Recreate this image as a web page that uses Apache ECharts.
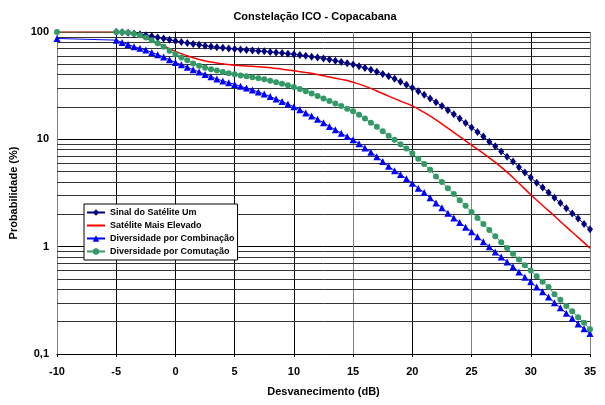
<!DOCTYPE html>
<html>
<head>
<meta charset="utf-8">
<script src="https://cdn.jsdelivr.net/npm/echarts@6/dist/echarts.min.js"></script>
<style>
  html, body { margin: 0; padding: 0; background: #fff; }
  #chart { width: 605px; height: 405px; }
</style>
</head>
<body>
<div id="chart"></div>
<script>
// fade depth in dB where the marker series are sampled
const fadeDb = [
  -5, -4.5, -4, -3.5, -3, -2.5, -2, -1.5, -1, -0.5,
  0, 0.5, 1, 1.5, 2, 2.5, 3, 3.5, 4, 4.5,
  5, 5.5, 6, 6.5, 7, 7.5, 8, 8.5, 9, 9.5,
  10, 10.5, 11, 11.5, 12, 12.5, 13, 13.5, 14, 14.5,
  15, 15.5, 16, 16.5, 17, 17.5, 18, 18.5, 19, 19.5,
  20, 20.5, 21, 21.5, 22, 22.5, 23, 23.5, 24, 24.5,
  25, 25.5, 26, 26.5, 27, 27.5, 28, 28.5, 29, 29.5,
  30, 30.5, 31, 31.5, 32, 32.5, 33, 33.5, 34, 34.5, 35
];

// Sinal do Satélite Um (%)
const sinalUm = [
  100, 99.5, 98.5, 97, 95.5, 93.5, 91.5, 89, 87, 84.5,
  82.5, 80.5, 79, 77.5, 76, 74.5, 73.3, 72.2, 71.2, 70.3,
  69.5, 68.8, 68, 67.2, 66.6, 66, 65.2, 64.4, 63.6, 62.8,
  62, 61, 60, 58.9, 57.8, 56.6, 55.3, 54, 52.6, 51.2,
  49.8, 48, 46.3, 44.5, 42.6, 40.7, 38.7, 36.6, 34.4, 32.2,
  30.2, 28, 26, 24, 22.2, 20.4, 18.7, 17.1, 15.6, 14.2,
  12.9, 11.7, 10.6, 9.5, 8.6, 7.7, 6.9, 6.2, 5.5, 4.9,
  4.4, 3.95, 3.55, 3.2, 2.85, 2.55, 2.28, 2.04, 1.83, 1.63, 1.45
];

// Diversidade por Combinação (%)
const combinacao = [
  84, 80, 76.5, 73, 70.5, 68, 64.5, 61.5, 58.5, 55,
  52, 49.5, 47, 44.5, 42.5, 40.2, 38.3, 36.5, 35, 33.7,
  32.5, 31.2, 30, 28.8, 27.6, 26.4, 25, 23.8, 22.5, 21.3,
  20.1, 18.9, 17.6, 16.5, 15.4, 14.3, 13.2, 12.3, 11.4, 10.6,
  9.9, 9.1, 8.3, 7.6, 6.9, 6.2, 5.6, 5.1, 4.7, 4.3,
  3.9, 3.5, 3.2, 2.85, 2.55, 2.3, 2.05, 1.85, 1.68, 1.52,
  1.38, 1.24, 1.11, 1.0, 0.89, 0.8, 0.72, 0.65, 0.58, 0.52,
  0.47, 0.42, 0.38, 0.34, 0.3, 0.27, 0.24, 0.215, 0.19, 0.172, 0.155
];
const combinacaoStart = [-10, 87];

// Diversidade por Comutação (%)
const comutacao = [
  100, 99.5, 98.5, 96.5, 93.5, 89, 84, 78.5, 73, 67,
  62, 58, 54.5, 51, 48.5, 46.5, 45, 43.8, 42.5, 41.3,
  40.3, 39.4, 38.6, 37.8, 37, 36.2, 35.2, 34.1, 33, 31.9,
  30.8, 29.4, 28, 26.7, 25.3, 24, 22.8, 21.6, 20.4, 19.3,
  18.3, 16.9, 15.6, 14.3, 13.1, 11.9, 10.8, 9.9, 9, 8.2,
  7.4, 6.6, 5.9, 5.2, 4.5, 4.0, 3.5, 3.1, 2.7, 2.4,
  2.1, 1.85, 1.63, 1.43, 1.25, 1.1, 0.97, 0.86, 0.76, 0.67,
  0.6, 0.53, 0.47, 0.42, 0.36, 0.32, 0.28, 0.25, 0.22, 0.195, 0.17
];
const comutacaoStart = [-10, 100];

// Satélite Mais Elevado (%), smooth line at 1 dB
const elevadoDb = [
  -10, -9, -8, -7, -6, -5, -4, -3, -2, -1,
  0, 1, 2, 3, 4, 5, 6, 7, 8, 9,
  10, 11, 12, 13, 14, 15, 16, 17, 18, 19,
  20, 21, 22, 23, 24, 25, 26, 27, 28, 29,
  30, 31, 32, 33, 34, 35
];
const elevado = [
  100, 100, 100, 100, 100, 100, 99.5, 94, 83, 74,
  66, 60, 55.5, 52.5, 50.5, 49, 48.2, 47.5, 46.5, 45,
  43.5, 42, 40.2, 38, 36.2, 34, 31.3, 28.2, 25.3, 22.7,
  20.5, 17.8, 15.2, 12.7, 10.6, 8.85, 7.4, 6.1, 4.95, 3.9,
  3.05, 2.42, 1.93, 1.53, 1.22, 0.97
];

// minor log grid lines
const minorGrid = [0.2, 0.3, 0.4, 0.5, 0.6, 0.7, 0.8, 0.9,
  2, 3, 4, 5, 6, 7, 8, 9, 20, 30, 40, 50, 60, 70, 80, 90];

const pairs = (xs, ys) => xs.map((x, i) => [x, ys[i]]);

const chart = echarts.init(document.getElementById('chart'));
const bold = { fontFamily: 'Liberation Sans', fontWeight: 'bold', color: '#000' };
const hidden = 'rgba(0,0,0,0)';

const option = {
  animation: false,
  backgroundColor: '#fff',
  title: {
    text: 'Constelação ICO - Copacabana',
    left: 310,
    top: 6,
    textAlign: 'center',
    textStyle: Object.assign({ fontSize: 11 }, bold)
  },
  grid: { left: 57, right: 15, top: 32, bottom: 51 },
  legend: {
    orient: 'vertical',
    left: 84,
    top: 204,
    z: 10,
    padding: [4, 3, 4, 2],
    itemGap: 4,
    itemWidth: 18,
    itemHeight: 8,
    backgroundColor: '#fff',
    borderColor: '#000',
    borderWidth: 1,
    textStyle: Object.assign({ fontSize: 9 }, bold),
    data: [
      'Sinal do Satélite Um',
      { name: 'Satélite Mais Elevado', itemStyle: { color: hidden, borderColor: hidden, borderWidth: 0 } },
      'Diversidade por Combinação',
      'Diversidade por Comutação'
    ]
  },
  xAxis: {
    type: 'value',
    min: -10,
    max: 35,
    interval: 5,
    name: 'Desvanecimento (dB)',
    nameLocation: 'middle',
    nameGap: 32,
    nameTextStyle: Object.assign({ fontSize: 11 }, bold),
    axisLine: { lineStyle: { color: '#000' } },
    axisTick: { show: true, length: 3, lineStyle: { color: '#000' } },
    axisLabel: Object.assign({ fontSize: 11, margin: 12 }, bold),
    splitLine: {
      lineStyle: {
        color: ['#808080', '#000', '#808080', '#000', '#000',
          '#808080', '#000', '#808080', '#000', '#808080']
      }
    }
  },
  yAxis: {
    type: 'log',
    logBase: 10,
    min: 0.1,
    max: 100,
    name: 'Probabilidade (%)',
    nameLocation: 'middle',
    nameGap: 31,
    nameTextStyle: Object.assign({ fontSize: 11 }, bold),
    axisLine: { lineStyle: { color: '#000' } },
    axisTick: { show: true, length: 3, lineStyle: { color: '#000' } },
    axisLabel: Object.assign({
      fontSize: 11,
      margin: 8,
      formatter: v => String(v).replace('.', ',')
    }, bold),
    splitLine: { lineStyle: { color: '#000' } }
  },
  series: [
    {
      name: 'Sinal do Satélite Um',
      type: 'line',
      data: pairs(fadeDb, sinalUm),
      color: '#000080',
      symbol: 'diamond',
      symbolSize: [6, 8],
      lineStyle: { width: 1 },
      markLine: {
        silent: true,
        z: 1,
        symbol: 'none',
        label: { show: false },
        lineStyle: { color: '#333', width: 1, type: 'solid' },
        data: minorGrid.map(v => ({ yAxis: v }))
      }
    },
    {
      name: 'Satélite Mais Elevado',
      type: 'line',
      data: pairs(elevadoDb, elevado),
      color: '#ff0000',
      symbol: 'none',
      smooth: true,
      lineStyle: { width: 1.5 }
    },
    {
      name: 'Diversidade por Combinação',
      type: 'line',
      data: [combinacaoStart].concat(pairs(fadeDb, combinacao)),
      color: '#0000ff',
      symbol: 'triangle',
      symbolSize: 7,
      lineStyle: { width: 1 }
    },
    {
      name: 'Diversidade por Comutação',
      type: 'line',
      data: [comutacaoStart].concat(pairs(fadeDb, comutacao)),
      color: '#339966',
      symbol: 'circle',
      symbolSize: 6,
      lineStyle: { width: 1 }
    }
  ]
};

chart.setOption(option);
</script>
</body>
</html>
